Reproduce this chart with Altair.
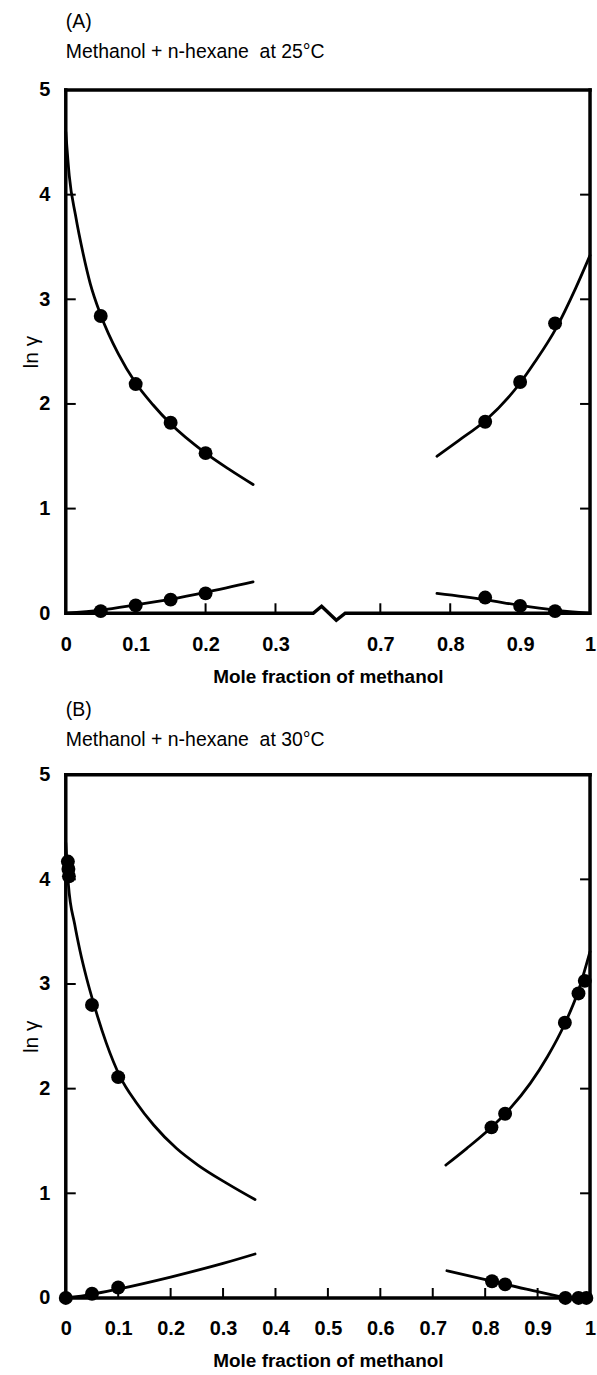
import altair as alt
import pandas as pd

# ---------------- Panel A : Methanol + n-hexane at 25 °C ----------------
A_title = ["(A)", "Methanol + n-hexane\u00a0 at 25°C"]
A_tick_x = [0, 0.1, 0.2, 0.3, 0.7, 0.8, 0.9, 1]

A_c1_x = [0.0, 0.005, 0.014, 0.025, 0.035, 0.05, 0.075, 0.1, 0.125, 0.15, 0.2, 0.235, 0.268]
A_c1_y = [4.6, 4.18, 3.8, 3.43, 3.15, 2.85, 2.48, 2.2, 1.99, 1.81, 1.53, 1.37, 1.23]
A_c2_x = [0.781, 0.812, 0.85, 0.9, 0.921, 0.952, 0.979, 1.0]
A_c2_y = [1.5, 1.65, 1.84, 2.2, 2.4, 2.73, 3.1, 3.42]
A_c3_x = [0.0, 0.05, 0.1, 0.15, 0.2, 0.268]
A_c3_y = [0.0, 0.03, 0.08, 0.135, 0.2, 0.3]
A_c4_x = [0.781, 0.85, 0.9, 0.95, 1.0]
A_c4_y = [0.19, 0.13, 0.075, 0.03, 0.0]

A_pt_x = [0.05, 0.1, 0.15, 0.2, 0.85, 0.9, 0.95, 0.05, 0.1, 0.15, 0.2, 0.85, 0.9, 0.95]
A_pt_y = [2.84, 2.19, 1.82, 1.53, 1.83, 2.21, 2.77, 0.02, 0.075, 0.13, 0.19, 0.15, 0.07, 0.02]

# axis break (zig-zag) in plot-fraction units
A_break_u = [0.0, 0.472, 0.488, 0.516, 0.533, 1.0]
A_break_y = [0.0, 0.0, 0.067, -0.067, 0.0, 0.0]

# ---------------- Panel B : Methanol + n-hexane at 30 °C ----------------
B_title = ["(B)", "Methanol + n-hexane\u00a0 at 30°C"]
B_tick_x = [0, 0.1, 0.2, 0.3, 0.4, 0.5, 0.6, 0.7, 0.8, 0.9, 1]

B_c1_x = [0.0, 0.005, 0.017, 0.027, 0.04, 0.054, 0.077, 0.104, 0.134, 0.168, 0.211, 0.252, 0.309, 0.361]
B_c1_y = [4.35, 3.95, 3.57, 3.32, 3.05, 2.8, 2.44, 2.11, 1.87, 1.65, 1.43, 1.27, 1.09, 0.94]
B_c2_x = [0.725, 0.765, 0.812, 0.846, 0.886, 0.919, 0.951, 0.977, 1.0]
B_c2_y = [1.27, 1.43, 1.632, 1.802, 2.05, 2.307, 2.611, 2.923, 3.31]
B_c3_x = [0.0, 0.05, 0.1, 0.2, 0.3, 0.361]
B_c3_y = [0.0, 0.035, 0.085, 0.2, 0.33, 0.42]
B_c4_x = [0.727, 0.813, 0.838, 0.9, 0.953]
B_c4_y = [0.26, 0.16, 0.13, 0.06, 0.0]

B_pt_x = [0.004, 0.005, 0.006, 0.05, 0.1, 0.812, 0.838, 0.952, 0.978, 0.99,
          0.0, 0.05, 0.1, 0.813, 0.838, 0.953, 0.978, 0.993]
B_pt_y = [4.17, 4.1, 4.03, 2.8, 2.11, 1.63, 1.76, 2.63, 2.91, 3.03,
          0.0, 0.04, 0.1, 0.16, 0.13, 0.0, 0.0, 0.0]

Y_ticks = [0, 1, 2, 3, 4, 5]
Y_inner_ticks = [1, 2, 3, 4]

W, H = 526, 525
FONT = "Liberation Sans"
TICK = 10
LW = 2.8
FW = 3.5

BROKEN_EXPR = "datum.x <= 0.5 ? datum.x * 4 / 3 : 0.6 + (datum.x - 0.7) * 4 / 3"
IDENT_EXPR = "datum.x"


def to_u_broken(v):
    return v * 4 / 3 if v <= 0.5 else 0.6 + (v - 0.7) * 4 / 3


def curves_df(curves):
    rows = []
    for i, (xs, ys) in enumerate(curves):
        for a, b in zip(xs, ys):
            rows.append({"seg": i, "x": a, "y": b})
    return pd.DataFrame(rows)


def panel(title, curves, pts_x, pts_y, tick_x, broken, title_offset):
    expr = BROKEN_EXPR if broken else IDENT_EXPR
    if broken:
        axis_vals = [to_u_broken(v) for v in tick_x]
        label_expr = ("datum.value < 0.5 ? format(datum.value * 0.75, '.1~f') : "
                      "format(0.7 + (datum.value - 0.6) * 0.75, '.1~f')")
    else:
        axis_vals = list(tick_x)
        label_expr = "format(datum.value, '.1~f')"

    xscale = alt.Scale(domain=[0, 1], nice=False, zero=False)
    yscale = alt.Scale(domain=[0, 5], nice=False, zero=False)

    xaxis = alt.Axis(values=axis_vals, labelExpr=label_expr, ticks=False,
                     domain=False, grid=False, labelFont=FONT, labelFontSize=20,
                     labelFontWeight="bold", labelColor="black", labelPadding=21,
                     labelFlush=False, labelOverlap=False,
                     title="Mole fraction of methanol", titleFont=FONT, titleFontSize=19,
                     titleFontWeight="bold", titleColor="black", titlePadding=13)
    yaxis = alt.Axis(values=Y_ticks, ticks=False, domain=False, grid=False,
                     labelFont=FONT, labelFontSize=20, labelFontWeight="bold",
                     labelColor="black", labelPadding=16, labelFlush=False,
                     title="ln γ", titleFont=FONT, titleFontSize=21,
                     titleFontWeight="normal", titleColor="black", titlePadding=-3)

    X = alt.X("u:Q", scale=xscale, axis=xaxis)
    Y = alt.Y("y:Q", scale=yscale, axis=yaxis)

    cdf = curves_df(curves)
    lines = alt.Chart(cdf).transform_calculate(u=expr).mark_line(
        color="black", strokeWidth=LW, interpolate="monotone", strokeCap="round"
    ).encode(x=X, y=Y, detail="seg:N")

    pdf = pd.DataFrame({"x": pts_x, "y": pts_y})
    points = alt.Chart(pdf).transform_calculate(u=expr).mark_circle(
        color="black", size=195, opacity=1
    ).encode(x=X, y=Y)

    inner_x = [v for v in tick_x if 0 < v < 1]
    xt = alt.Chart(pd.DataFrame({"x": inner_x})).transform_calculate(u=expr).mark_rule(
        color="black", strokeWidth=2
    ).encode(x=X, y=alt.value(H), y2=alt.value(H - TICK))

    ydf = pd.DataFrame({"y": Y_inner_ticks})
    ytl = alt.Chart(ydf).mark_rule(color="black", strokeWidth=2).encode(
        y=Y, x=alt.value(0), x2=alt.value(TICK))
    ytr = alt.Chart(ydf).mark_rule(color="black", strokeWidth=2).encode(
        y=Y, x=alt.value(W - TICK), x2=alt.value(W))

    one = pd.DataFrame({"k": [0]})
    fl = alt.Chart(one).mark_rule(color="black", strokeWidth=FW, strokeCap="square").encode(
        x=alt.value(0), y=alt.value(0), y2=alt.value(H))
    fr = alt.Chart(one).mark_rule(color="black", strokeWidth=FW, strokeCap="square").encode(
        x=alt.value(W), y=alt.value(0), y2=alt.value(H))
    ft = alt.Chart(one).mark_rule(color="black", strokeWidth=FW, strokeCap="square").encode(
        y=alt.value(0), x=alt.value(0), x2=alt.value(W))

    layers = [lines, points, xt, ytl, ytr, fl, fr, ft]
    if broken:
        bdf = pd.DataFrame({"u": A_break_u, "y": A_break_y})
        fb = alt.Chart(bdf).mark_line(color="black", strokeWidth=FW, strokeJoin="miter",
                                      clip=False).encode(x=X, y=Y, order=alt.Order("u:Q"))
        layers.append(fb)
    else:
        fb = alt.Chart(one).mark_rule(color="black", strokeWidth=FW, strokeCap="square").encode(
            y=alt.value(H), x=alt.value(0), x2=alt.value(W))
        layers.append(fb)

    return alt.layer(*layers).properties(
        width=W, height=H,
        title=alt.TitleParams(text=title, anchor="start", font=FONT, fontSize=19.5,
                              fontWeight="normal", color="black", lineHeight=30,
                              offset=title_offset, frame="group"),
    )


pA = panel(A_title, [(A_c1_x, A_c1_y), (A_c2_x, A_c2_y), (A_c3_x, A_c3_y), (A_c4_x, A_c4_y)],
           A_pt_x, A_pt_y, A_tick_x, True, 18)
pB = panel(B_title, [(B_c1_x, B_c1_y), (B_c2_x, B_c2_y), (B_c3_x, B_c3_y), (B_c4_x, B_c4_y)],
           B_pt_x, B_pt_y, B_tick_x, False, 14)

chart = alt.vconcat(pA, pB, spacing=14).properties(
    padding={"left": 20, "top": 9, "right": 0, "bottom": 0},
    background="white",
).configure_view(stroke=None)

chart.save("out.html", embed_options={"renderer": "svg", "actions": False})
